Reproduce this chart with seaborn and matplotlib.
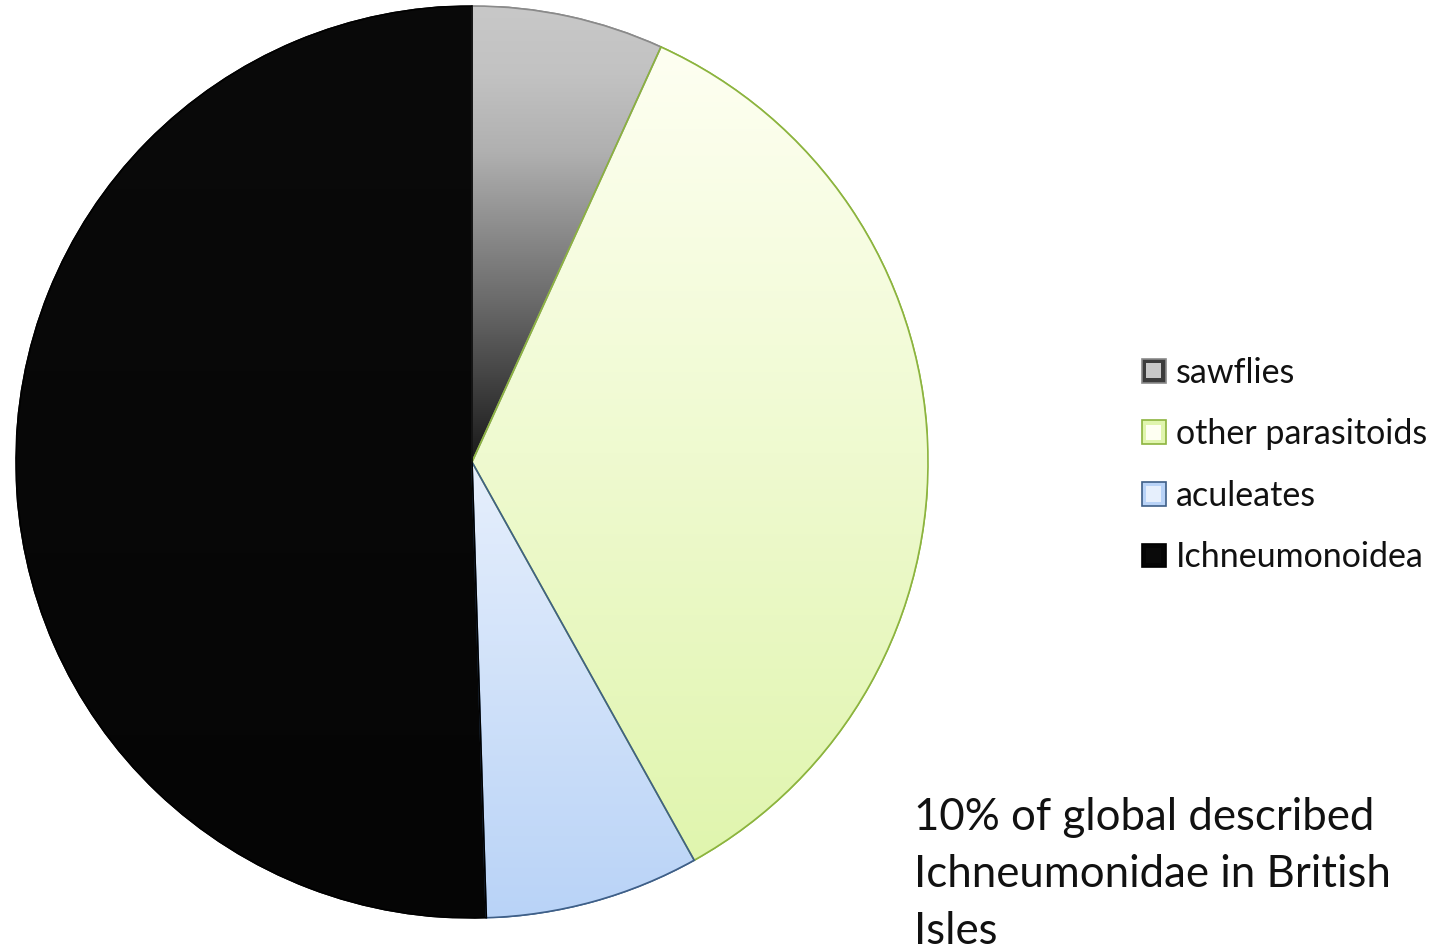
import numpy as np
import matplotlib
matplotlib.use("Agg")
import matplotlib.pyplot as plt
import seaborn as sns
from matplotlib.colors import LinearSegmentedColormap
from matplotlib.patches import Rectangle, PathPatch
from matplotlib.legend_handler import HandlerPatch

# Share of British Hymenoptera species by group (percent)
groups = ["sawflies", "other parasitoids", "aculeates", "Ichneumonoidea"]
shares = [6.8, 35.1, 7.6, 50.5]

# Gradient stops (top -> bottom) of each slice, plus outline colour
gradient_stops = [
    [(0.0, "#c8c8c8"), (0.15, "#c2c2c2"), (0.32, "#b0b0b0"),
     (0.65, "#6a6a6a"), (0.9, "#303030"), (1.0, "#1a1a1a")],
    [(0.0, "#fefff2"), (1.0, "#e0f5ae")],
    [(0.0, "#e6effc"), (1.0, "#b9d3f7")],
    [(0.0, "#0a0a0a"), (1.0, "#050505")],
]
legend_inner = ["#c8c8c8", "#fefff2", "#e6effc", "#0a0a0a"]
legend_face = ["#3c3c3c", "#e0f5ae", "#b9d3f7", "#050505"]
edge_colors = ["#8a8a8a", "#8cb43e", "#3e5f88", "#000000"]

note = "10% of global described\nIchneumonidae in British\nIsles"

sns.set_theme(style="white")
plt.rcParams["font.family"] = ["Lato", "DejaVu Sans"]

fig = plt.figure(figsize=(14.5, 9.52), dpi=100)
W, H = 1450, 952
cx, cy, r = 472, 462, 456
ax = fig.add_axes([(cx - r) / W, (H - cy - r) / H, 2 * r / W, 2 * r / H])

wedges, _ = ax.pie(shares, startangle=90, counterclock=False, radius=1,
                   colors=legend_face,
                   wedgeprops=dict(linewidth=1.2))
for w, ec in zip(wedges, edge_colors):
    w.set_edgecolor(ec)
ax.set_aspect("equal")
ax.axis("off")

# Vertical gradient fill clipped to each wedge
grad = np.linspace(0, 1, 512).reshape(-1, 1)
for w, stops in zip(wedges, gradient_stops):
    bb = w.get_path().get_extents()
    cmap = LinearSegmentedColormap.from_list("g", stops)
    im = ax.imshow(grad, cmap=cmap, aspect="auto",
                   extent=[bb.x0, bb.x1, bb.y0, bb.y1], origin="upper",
                   zorder=w.get_zorder() + 0.1, interpolation="bicubic")
    im.set_clip_path(w)
    # Outline drawn over the gradient
    ax.add_patch(PathPatch(w.get_path(), facecolor="none",
                           edgecolor=w.get_edgecolor(), linewidth=1.2,
                           zorder=w.get_zorder() + 0.2))
ax.set_xlim(-1.0, 1.0)
ax.set_ylim(-1.0, 1.0)


class GradientSquare(HandlerPatch):
    def create_artists(self, legend, orig_handle, xdescent, ydescent,
                       width, height, fontsize, trans):
        s = height * 1.0
        x0 = -xdescent + (width - s) / 2
        y0 = -ydescent + (height - s) / 2
        p = Rectangle((x0, y0), s, s, facecolor=orig_handle.get_facecolor(),
                      edgecolor=orig_handle.get_edgecolor(), linewidth=1.2,
                      transform=trans)
        inner = Rectangle((x0 + s * 0.18, y0 + s * 0.18), s * 0.64, s * 0.64,
                          facecolor=orig_handle._inner, edgecolor="none",
                          transform=trans)
        return [p, inner]


handles = []
for c0, c1, ec in zip(legend_inner, legend_face, edge_colors):
    h = Rectangle((0, 0), 1, 1, facecolor=c1, edgecolor=ec)
    h._inner = c0
    handles.append(h)

leg = fig.legend(handles, groups, loc="center left",
                 bbox_to_anchor=(1118 / W, 1 - 465 / H), frameon=False,
                 fontsize=24.5, handlelength=0.7, handleheight=0.7,
                 handletextpad=0.3, labelspacing=0.87, borderpad=0.2,
                 handler_map={Rectangle: GradientSquare()})
for t in leg.get_texts():
    t.set_color("#111111")

fig.text(914 / W, 1 - 797 / H, note, ha="left", va="top", fontsize=31.5,
         color="#111111", linespacing=1.48)

fig.savefig("out.png", dpi=100, facecolor="white")
